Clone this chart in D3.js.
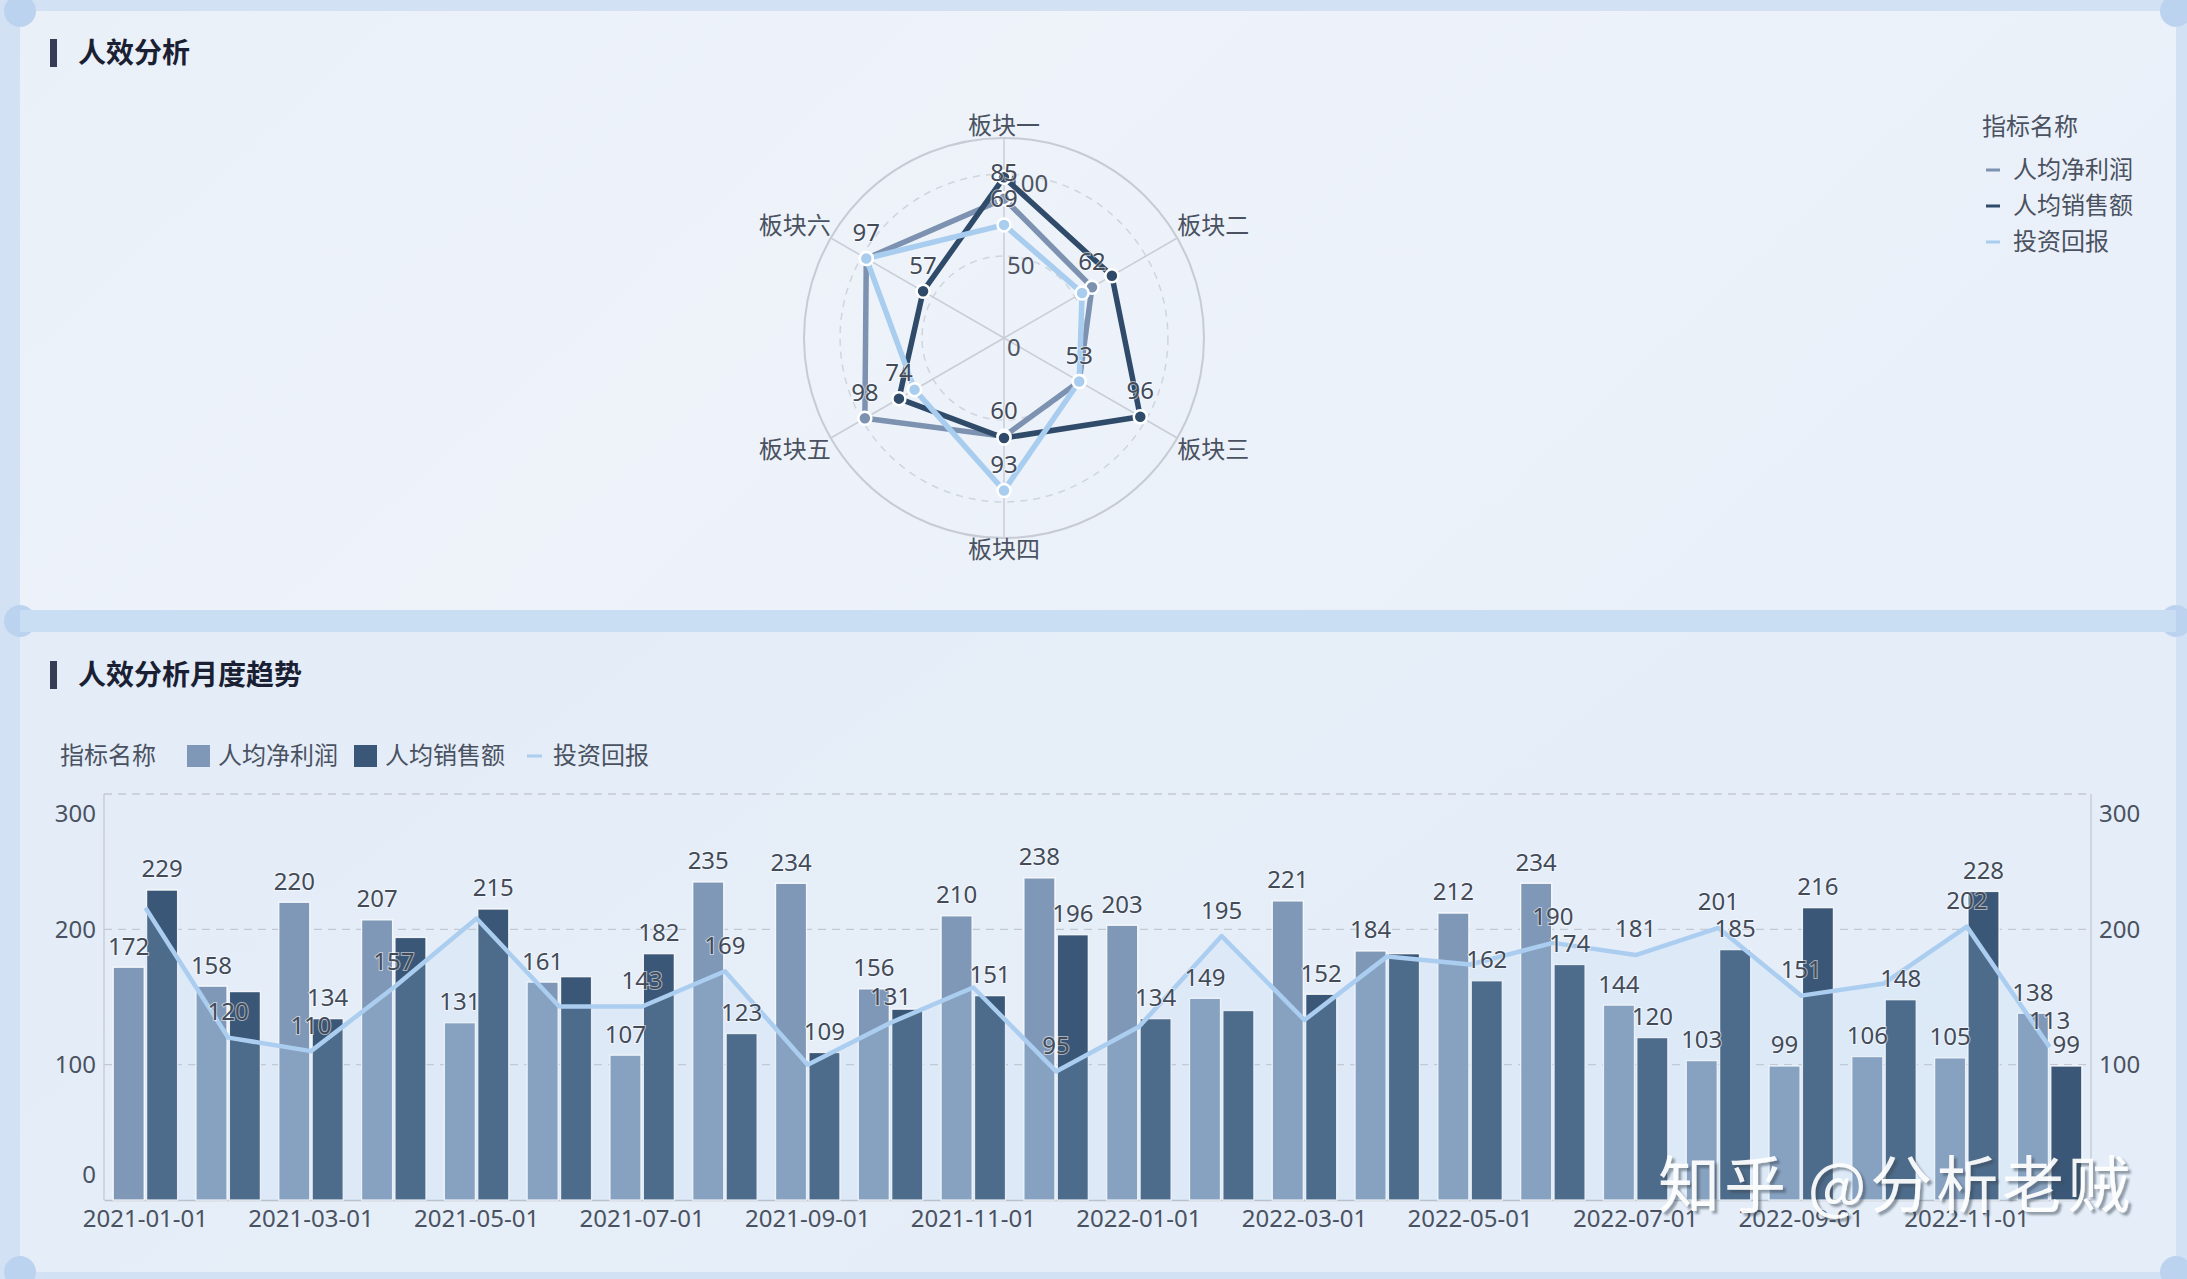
<!DOCTYPE html>
<html><head><meta charset="utf-8">
<script src="https://cdn.jsdelivr.net/npm/d3@7"></script>
<style>
html,body{margin:0;padding:0;background:#d3e3f5;}
svg{display:block;}
text{font-family:'Noto Sans','Noto Sans CJK SC',sans-serif;}
</style></head><body>
<svg id="c" width="2187" height="1279"></svg>
<script>
// ---------- data ----------
const indicators = ['板块一','板块二','板块三','板块四','板块五','板块六'];
const seriesNames = ['人均净利润','人均销售额','投资回报'];
const radarProfit = [85,62,53,60,98,97];
const radarSales  = [98,76,96,61,74,57];
const radarRoi    = [69,55,53,93,63,97];
const radarTicks  = [0,50,100];

const months = ['2021-01-01','2021-02-01','2021-03-01','2021-04-01','2021-05-01','2021-06-01',
  '2021-07-01','2021-08-01','2021-09-01','2021-10-01','2021-11-01','2021-12-01',
  '2022-01-01','2022-02-01','2022-03-01','2022-04-01','2022-05-01','2022-06-01',
  '2022-07-01','2022-08-01','2022-09-01','2022-10-01','2022-11-01','2022-12-01'];
const profit = [172,158,220,207,131,161,107,235,234,156,210,238,203,149,221,184,212,234,144,103,99,106,105,138];
const sales  = [229,154,134,194,215,165,182,123,109,141,151,196,134,140,152,182,162,174,120,185,216,148,228,99];
const roi    = [216,120,110,157,208,143,143,169,100,131,157,95,128,195,133,180,174,190,181,201,151,160,202,113];
const yTicks = [0,100,200,300];
const xTickLabels = months.filter((d,i)=>i%2===0);

// ---------- styles ----------
const C_PROFIT = '#7f98b7', C_SALES = '#3a5777', C_ROI = '#abcdf0';
const R_PROFIT = '#7c92b0', R_SALES = '#2f4b69', R_ROI = '#a9cdef';
const TXT = '#434b59';

const svg = d3.select('#c');
const defs = svg.append('defs');
const g1 = defs.append('linearGradient').attr('id','pTop').attr('x1',0).attr('x2',1).attr('y1',0).attr('y2',0.3);
g1.append('stop').attr('offset',0).attr('stop-color','#eaf0f8');
g1.append('stop').attr('offset',0.45).attr('stop-color','#eef3fa');
g1.append('stop').attr('offset',1).attr('stop-color','#eaf0f9');
const g2 = defs.append('linearGradient').attr('id','pBot').attr('x1',0).attr('x2',1).attr('y1',0).attr('y2',0.4);
g2.append('stop').attr('offset',0).attr('stop-color','#e3ecf7');
g2.append('stop').attr('offset',0.5).attr('stop-color','#e6eef8');
g2.append('stop').attr('offset',1).attr('stop-color','#e4edf8');
const f = defs.append('filter').attr('id','wm').attr('x','-10%').attr('y','-20%').attr('width','130%').attr('height','150%');
f.append('feDropShadow').attr('dx',3).attr('dy',3).attr('stdDeviation',1.2).attr('flood-color','#3a4656').attr('flood-opacity',0.55);

// background frame
svg.append('rect').attr('width',2187).attr('height',1279).attr('fill','#d2e2f4');
svg.append('rect').attr('x',20).attr('y',11).attr('width',2156).attr('height',599).attr('fill','url(#pTop)');
svg.append('rect').attr('x',20).attr('y',632).attr('width',2156).attr('height',640).attr('fill','url(#pBot)');
[[20,11],[2176,11],[20,621],[2176,621],[20,1272],[2176,1272]].forEach(p=>{
  svg.append('circle').attr('cx',p[0]).attr('cy',p[1]).attr('r',16).attr('fill','#bcd3ef');
});
svg.append('rect').attr('x',20).attr('y',610).attr('width',2156).attr('height',22).attr('fill','#c9ddf3');

// titles
function title(y, t){
  svg.append('rect').attr('x',50).attr('y',y-14).attr('width',7).attr('height',28).attr('fill','#363c55');
  svg.append('text').attr('x',78).attr('y',y).attr('dy','0.35em').attr('font-size',28).attr('font-weight',700)
    .attr('fill','#1b1f33').style('font-family',"'Noto Sans CJK SC',sans-serif").text(t);
}
title(53,'人效分析');
title(675,'人效分析月度趋势');

// greedy overlap hiding
function hideOverlap(items){
  const kept=[];
  items.forEach(it=>{
    const ok = kept.every(k=> Math.abs(k.cx-it.cx) >= (k.w+it.w)/2 || Math.abs(k.cy-it.cy) >= 23.4);
    it.show = ok; if(ok) kept.push(it);
  });
  return items;
}
const textW = s => String(s).length*13.7;
function drawLabels(g, items){
  g.selectAll('text.lbl').data(items.filter(d=>d.show)).join('text').attr('class','lbl')
    .attr('x',d=>d.cx).attr('y',d=>d.cy).attr('dy','0.35em').attr('text-anchor','middle')
    .attr('font-size',24).attr('fill',TXT)
    .attr('stroke','rgba(255,255,255,0.55)').attr('stroke-width',2).attr('paint-order','stroke')
    .text(d=>d.v);
}

// ---------- radar ----------
const cx = 1004, cy = 338, R = 200;
const rScale = d3.scaleLinear().domain([0,122]).range([0,R]);
const rg = svg.append('g').attr('transform',`translate(${cx},${cy})`);
const ang = i => i*2*Math.PI/indicators.length;
rg.append('circle').attr('r',R).attr('fill','none').attr('stroke','#c6cbd4').attr('stroke-width',2);
radarTicks.filter(t=>t>0).forEach(t=>{
  rg.append('circle').attr('r',rScale(t)).attr('fill','none').attr('stroke','#cfd5de')
    .attr('stroke-width',1.5).attr('stroke-dasharray','7,6');
});
indicators.forEach((n,i)=>{
  const a = ang(i);
  rg.append('line').attr('x1',0).attr('y1',0).attr('x2',R*Math.sin(a)).attr('y2',-R*Math.cos(a))
    .attr('stroke','#c8cdd6').attr('stroke-width',1.5);
  const sx = Math.sin(a), sy = -Math.cos(a);
  const lx = R*sx, ly = R*sy + 12*Math.sign(Math.abs(sy)>0.01?sy:0);
  rg.append('text').attr('x',lx).attr('y',ly).attr('dy','0.35em')
    .attr('text-anchor', sx>0.01?'start':(sx<-0.01?'end':'middle'))
    .attr('font-size',24).attr('fill','#4a5261').text(n);
});
radarTicks.forEach(t=>{
  rg.append('text').attr('x',3).attr('y',-rScale(t)+10).attr('dy','0.35em').attr('font-size',24)
    .attr('fill','#4d5563').text(t);
});
const radarSeries = [
  {name:seriesNames[0], data:radarProfit, color:R_PROFIT},
  {name:seriesNames[1], data:radarSales, color:R_SALES},
  {name:seriesNames[2], data:radarRoi, color:R_ROI}];
const radLine = d3.lineRadial().angle((d,i)=>ang(i)).radius(d=>rScale(d)).curve(d3.curveLinearClosed);
radarSeries.forEach(s=>{
  rg.append('path').attr('d',radLine(s.data)).attr('fill','none').attr('stroke',s.color)
    .attr('stroke-width',5.5).attr('stroke-linejoin','round');
});
radarSeries.forEach(s=>{
  rg.selectAll(null).data(s.data).join('circle')
    .attr('cx',(d,i)=>rScale(d)*Math.sin(ang(i))).attr('cy',(d,i)=>-rScale(d)*Math.cos(ang(i)))
    .attr('r',6.5).attr('fill',s.color).attr('stroke','#fff').attr('stroke-width',2.5);
});
const radItems=[];
radarSeries.forEach(s=>s.data.forEach((d,i)=>{
  radItems.push({v:d, cx:rScale(d)*Math.sin(ang(i)), cy:-rScale(d)*Math.cos(ang(i))-26, w:textW(d)});
}));
drawLabels(rg.append('g'), hideOverlap(radItems));

// radar legend
const lg = svg.append('g');
lg.append('text').attr('x',1982).attr('y',127).attr('dy','0.35em').attr('font-size',24).attr('fill','#4a5261').text('指标名称');
radarSeries.forEach((s,i)=>{
  const y = 170 + i*36;
  lg.append('line').attr('x1',1986).attr('x2',2000).attr('y1',y).attr('y2',y).attr('stroke',s.color).attr('stroke-width',3);
  lg.append('text').attr('x',2013).attr('y',y).attr('dy','0.35em').attr('font-size',24).attr('fill','#4a5261').text(s.name);
});

// ---------- bar/line chart ----------
const X0 = 104, X1 = 2091, Y0 = 1200, Y1 = 794;
const x = d3.scaleBand().domain(months).range([X0,X1]).padding(0);
const xi = d3.scaleBand().domain(['p','s']).range([0,x.bandwidth()]).paddingInner(0.072).paddingOuter(0.2755);
const y = d3.scaleLinear().domain([0,300]).range([Y0,Y1]);
const bg = svg.append('g');
// grid
bg.selectAll('line.grid').data(yTicks.filter(t=>t>0)).join('line').attr('class','grid')
  .attr('x1',X0).attr('x2',X1).attr('y1',d=>y(d)).attr('y2',d=>y(d))
  .attr('stroke','#c3c9d2').attr('stroke-width',1.3).attr('stroke-dasharray','8,6');
bg.append('line').attr('x1',X0).attr('x2',X0).attr('y1',Y1).attr('y2',Y0).attr('stroke','#c4cad3').attr('stroke-width',1.3);
bg.append('line').attr('x1',X1).attr('x2',X1).attr('y1',Y1).attr('y2',Y0).attr('stroke','#c4cad3').attr('stroke-width',1.3);

// axes
const yl = bg.append('g').attr('transform',`translate(${X0},0)`)
  .call(d3.axisLeft(y).tickValues(yTicks).tickSize(0).tickPadding(8));
const yr = bg.append('g').attr('transform',`translate(${X1},0)`)
  .call(d3.axisRight(y).tickValues(yTicks.filter(t=>t>0)).tickSize(0).tickPadding(8));
[yl,yr].forEach(a=>{
  a.select('.domain').remove();
  a.selectAll('text').attr('font-size',24).attr('fill','#4a5261').style('font-family',"'Noto Sans',sans-serif")
    .attr('y',d=> d===300?20:(d===0?-25:0));
});
const xa = bg.append('g').attr('transform',`translate(0,${Y0})`)
  .call(d3.axisBottom(x).tickValues(xTickLabels).tickSize(0).tickPadding(0));
xa.select('.domain').attr('stroke','#b9c1cc').attr('stroke-width',1.6);
xa.selectAll('text').attr('font-size',24).attr('fill','#4a5261').attr('y',19).attr('dy','0.35em')
  .style('font-family',"'Noto Sans',sans-serif");

// bars
const barSeries = [{k:'p',data:profit,color:C_PROFIT},{k:'s',data:sales,color:C_SALES}];
barSeries.forEach(s=>{
  bg.selectAll(null).data(s.data).join('rect')
    .attr('x',(d,i)=>x(months[i])+xi(s.k)).attr('width',xi.bandwidth())
    .attr('y',d=>y(d)).attr('height',d=>Y0-y(d))
    .attr('fill',s.color).attr('stroke','#ffffff').attr('stroke-opacity',0.85).attr('stroke-width',1.3);
});
// line area + line
const cxm = i => x(months[i]) + x.bandwidth()/2;
const area = d3.area().x((d,i)=>cxm(i)).y0(Y0).y1(d=>y(d));
bg.append('path').attr('d',area(roi)).attr('fill','rgba(181,211,243,0.16)');
const line = d3.line().x((d,i)=>cxm(i)).y(d=>y(d));
bg.append('path').attr('d',line(roi)).attr('fill','none').attr('stroke',C_ROI).attr('stroke-width',4.5)
  .attr('stroke-linejoin','round');

// labels
const items=[];
barSeries.forEach(s=>s.data.forEach((d,i)=>items.push({v:d,cx:x(months[i])+xi(s.k)+xi.bandwidth()/2,cy:y(d)-21,w:textW(d)})));
roi.forEach((d,i)=>items.push({v:d,cx:cxm(i),cy:y(d)-26,w:textW(d)}));
drawLabels(bg.append('g'), hideOverlap(items));

// legend bottom
const LY = 756;
const bl = svg.append('g');
bl.append('text').attr('x',60).attr('y',LY).attr('dy','0.35em').attr('font-size',24).attr('fill','#4a5261').text('指标名称');
bl.append('rect').attr('x',187).attr('y',LY-11).attr('width',23).attr('height',22).attr('fill',C_PROFIT);
bl.append('text').attr('x',218).attr('y',LY).attr('dy','0.35em').attr('font-size',24).attr('fill','#4a5261').text(seriesNames[0]);
bl.append('rect').attr('x',354).attr('y',LY-11).attr('width',23).attr('height',22).attr('fill',C_SALES);
bl.append('text').attr('x',385).attr('y',LY).attr('dy','0.35em').attr('font-size',24).attr('fill','#4a5261').text(seriesNames[1]);
bl.append('line').attr('x1',527).attr('x2',542).attr('y1',LY).attr('y2',LY).attr('stroke',C_ROI).attr('stroke-width',3);
bl.append('text').attr('x',553).attr('y',LY).attr('dy','0.35em').attr('font-size',24).attr('fill','#4a5261').text(seriesNames[2]);

// watermark
svg.append('text').attr('x',1658).attr('y',1208).attr('font-size',62).attr('fill','#ffffff').attr('fill-opacity',0.92)
  .attr('textLength',472).attr('filter','url(#wm)').style('font-family',"'Noto Sans CJK SC',sans-serif")
  .text('知乎 @分析老贼');
</script>
</body></html>
